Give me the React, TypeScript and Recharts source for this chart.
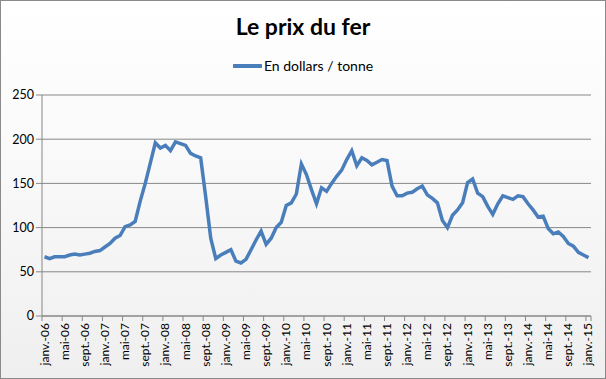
import React from "react";
import { LineChart, Line, XAxis, YAxis, CartesianGrid, Legend } from "recharts";

const monthNames = ["janv.", "févr.", "mars", "avr.", "mai", "juin", "juil.", "août", "sept.", "oct.", "nov.", "déc."];
const years = ["06", "07", "08", "09", "10", "11", "12", "13", "14", "15"];

const prices = [
  67, 65, 67, 67, 67, 69, 70, 69, 70, 71, 73, 74,
  78, 82, 88, 91, 101, 103, 107, 130, 150, 173, 196, 190,
  193, 187, 197, 195, 193, 184, 181, 179, 135, 88, 65, 69,
  72, 75, 62, 60, 64, 75, 86, 96, 81, 88, 100, 106,
  125, 128, 138, 172, 160, 143, 127, 145, 141, 150, 158, 165,
  177, 187, 170, 179, 176, 171, 174, 177, 176, 147, 136, 136,
  139, 140, 144, 147, 137, 133, 128, 108, 100, 114, 120, 128,
  151, 155, 139, 135, 124, 115, 127, 136, 134, 132, 136, 135,
  127, 120, 112, 113, 99, 93, 95, 90, 82, 79, 72, 69,
  66,
];

const yTicks = [0, 50, 100, 150, 200, 250];

const categories: string[] = [];
years.forEach((y) => monthNames.forEach((m) => categories.push(`${m}-${y}`)));

const data = prices.map((v, i) => ({ month: categories[i], price: v }));

const FONT = "Lato, 'Open Sans', sans-serif";
const GRID = "#878787";
const BLUE = "#4a7ebb";
const HALF = 2.52;

const XTick = (props: any) => {
  const { x, y, payload } = props;
  const isLast = payload.index === prices.length - 1;
  return (
    <g>
      <line x1={x - HALF} y1={y - 6} x2={x - HALF} y2={y - 1} stroke={GRID} strokeWidth={1} />
      {isLast ? <line x1={x + HALF} y1={y - 6} x2={x + HALF} y2={y - 1} stroke={GRID} strokeWidth={1} /> : null}
      <text
        x={0}
        y={0}
        transform={`translate(${x + 4},${y + 1}) rotate(-90)`}
        textAnchor="end"
        fontSize={12}
        fontFamily={FONT}
        fill="#000"
      >
        {payload.value}
      </text>
    </g>
  );
};

const LegendContent = () => (
  <div style={{ display: "flex", justifyContent: "center", alignItems: "center", fontFamily: FONT, fontSize: 14, color: "#000" }}>
    <svg width={29} height={6} style={{ marginRight: 2 }}>
      <line x1={1} y1={3} x2={28} y2={3} stroke={BLUE} strokeWidth={4} strokeLinecap="round" />
    </svg>
    <span>En dollars / tonne</span>
  </div>
);

export default function App() {
  return (
    <div
      style={{
        position: "absolute",
        left: 0,
        top: 0,
        width: 604,
        height: 377,
        border: "1px solid #8a8a8a",
        background: "linear-gradient(#ffffff 0%, #f8f8f8 50%, #efefef 100%)",
        overflow: "hidden",
      }}
    >
      <div
        style={{
          position: "absolute",
          left: 0,
          top: 11,
          width: 604,
          textAlign: "center",
          fontFamily: FONT,
          fontWeight: 700,
          fontSize: 23,
          color: "#000",
        }}
      >
        Le prix du fer
      </div>
      <div style={{ position: "absolute", left: -1, top: -1 }}>
        <LineChart width={606} height={379} data={data} margin={{ top: 95, right: 15, bottom: 0, left: 0 }}>
          <CartesianGrid vertical={false} stroke={GRID} strokeWidth={1} />
          <XAxis
            dataKey="month"
            interval={3}
            padding={{ left: HALF, right: HALF }}
            height={63}
            tickLine={false}
            axisLine={{ stroke: GRID }}
            tick={<XTick />}
            tickMargin={0}
          />
          <YAxis
            domain={[0, 250]}
            ticks={yTicks}
            width={42}
            tickSize={6}
            tickLine={{ stroke: GRID }}
            axisLine={{ stroke: GRID }}
            tick={{ fontSize: 12.5, fontFamily: FONT, fill: "#000" }}
            interval={0}
          />
          <Legend
            layout="horizontal"
            verticalAlign="middle"
            align="center"
            wrapperStyle={{ position: "absolute", top: 57, left: 0, width: 606 }}
            content={<LegendContent />}
          />
          <Line
            type="linear"
            dataKey="price"
            name="En dollars / tonne"
            stroke={BLUE}
            strokeWidth={3.5}
            dot={false}
            activeDot={false}
            isAnimationActive={false}
          />
        </LineChart>
      </div>
    </div>
  );
}
